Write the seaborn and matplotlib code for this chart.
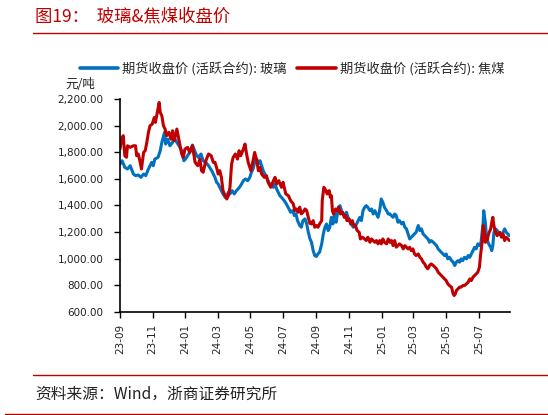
import numpy as np
import pandas as pd
import matplotlib
matplotlib.use("Agg")
import matplotlib.pyplot as plt
import matplotlib.dates as mdates
from matplotlib.ticker import FuncFormatter
from matplotlib.lines import Line2D
import seaborn as sns

# ---------------- data ----------------
start_date = "2023-09-01"

glass_days = [0, 4, 9, 14, 19, 25, 29, 34, 39, 44, 48, 53, 59, 62, 65, 71, 75, 78, 83, 85,
              89, 93, 98, 101, 106, 110, 115, 119, 122, 126, 130, 135, 138, 143, 146, 151,
              155, 160, 165, 171,
              177, 180, 183, 186, 189, 192, 196, 199, 202, 205, 209, 213, 217, 220, 225, 230,
              234, 238, 242, 245, 248, 251, 255, 258, 261, 264, 267, 270, 273, 276, 279, 282,
              286, 289, 292, 295, 298, 301, 306, 310, 315, 318, 322, 325, 328, 331, 335, 338,
              341, 345, 348, 351,
              354, 357, 360, 363, 366, 369, 372, 376, 379, 382, 385, 388, 391, 394, 397, 400,
              403, 407, 410, 413, 416, 419, 422, 425, 428, 431, 435, 438, 441, 444, 447, 450,
              453, 456, 459, 462, 466, 469, 472, 475, 478, 481, 484, 487, 490, 493, 497, 500,
              503, 506, 509, 512, 515, 518, 521, 525, 528,
              531, 534, 537, 540, 543, 546, 549, 552, 556, 559, 562, 565, 568, 571, 574, 577,
              580, 584, 587, 590, 593, 596, 599, 602, 605, 608, 611, 614, 618, 621, 624, 627,
              630, 633, 636, 639, 642, 646, 649, 652, 655, 658, 661, 664, 667, 670, 673, 677,
              678, 681, 683, 686, 689, 691, 693, 695, 697, 700, 703, 708, 711, 714, 717, 720,
              723, 726]
glass_values = [1712, 1737, 1687, 1675, 1700, 1637, 1625, 1630, 1612, 1637, 1625, 1675, 1725,
                1700, 1750, 1763, 1813, 1875, 1951, 1863, 1900, 1850, 1875, 1913, 1875, 1850,
                1813, 1737, 1750, 1775, 1800, 1855, 1825, 1775, 1763, 1788, 1737, 1725, 1700,
                1662,
                1612, 1575, 1562, 1537, 1512, 1487, 1462, 1474, 1499, 1487, 1512, 1487, 1512,
                1524, 1550, 1587, 1600, 1587, 1612, 1650, 1675, 1725, 1750, 1712, 1737, 1700,
                1662, 1637, 1612, 1587, 1562, 1550, 1537, 1562, 1524, 1499, 1474, 1462, 1437,
                1412, 1374, 1349, 1362, 1324, 1337, 1286, 1249, 1236, 1286, 1299, 1261, 1199,
                1150, 1123, 1061, 1023, 1016, 1036, 1048, 1111, 1186, 1236, 1261, 1211, 1236,
                1311, 1261, 1336, 1274, 1387, 1399, 1361, 1336, 1324, 1349, 1311, 1286, 1261,
                1236, 1249, 1261, 1286, 1311, 1286, 1361, 1386, 1399, 1386, 1361, 1374, 1336,
                1361, 1336, 1311, 1361, 1449, 1424, 1386, 1361, 1336, 1336, 1324, 1311, 1336,
                1324, 1274, 1286, 1261, 1274,
                1236, 1224, 1186, 1148, 1161, 1173, 1186, 1198, 1249, 1211, 1224, 1186, 1173,
                1161, 1148, 1123, 1136, 1123, 1111, 1098, 1073, 1060, 1048, 1035, 1023, 1035,
                998, 1010, 985, 973, 948, 973, 985, 973, 998, 985, 1010, 998, 1023, 1010, 1035,
                1060, 1085, 1073, 1111, 1098, 1123, 1273, 1361, 1273, 1173, 1123, 1098, 1085,
                1060, 1098, 1198, 1224, 1211, 1186, 1173, 1198, 1224, 1198, 1186, 1173]

coal_days = [0, 3, 6, 9, 12, 14, 19, 25, 29, 31, 34, 37, 40, 44, 47, 50, 53, 56, 60, 64, 66,
             70, 73, 75, 78, 81, 84, 87, 91, 95, 98, 101, 106, 109, 112, 115, 118, 121, 126,
             130, 135, 140, 145, 149, 152, 155, 160, 165, 170, 174,
             177, 180, 183, 186, 189, 192, 196, 199, 202, 205, 208, 211, 215, 219, 222, 225,
             230, 233, 236, 239, 244, 248, 251, 255, 258, 261, 264, 269, 273, 276, 281, 286,
             289, 292, 296, 301, 304, 309, 314, 318, 323, 326, 329, 332, 335, 338, 341, 345,
             348, 351,
             354, 357, 360, 363, 366, 369, 372, 376, 377, 380, 384, 386, 390, 392, 394, 396,
             398, 402, 405, 408, 411, 415, 418, 421, 423, 427, 430, 433, 436, 439, 442, 446,
             448, 452, 456, 459, 462, 466, 469, 472, 475, 478, 481, 484, 487, 490, 493, 497,
             500, 503, 506, 509, 512, 515, 518, 521, 525, 528,
             531, 534, 537, 540, 543, 546, 549, 552, 556, 559, 562, 565, 568, 571, 574, 577,
             580, 584, 587, 590, 593, 596, 599, 602, 605, 608, 611, 614, 618, 621, 623, 625,
             627, 630, 633, 636, 639, 642, 646, 649, 652, 655, 658, 661, 664, 667, 670, 672,
             675, 677, 678, 681, 685, 687, 691, 693, 695, 697, 700, 703, 708, 711, 714, 717,
             720, 723, 726]
coal_values = [1825, 1900, 1926, 1775, 1763, 1850, 1838, 1850, 1850, 1775, 1788, 1737, 1675,
               1800, 1813, 1875, 1951, 2001, 2013, 2063, 2026, 2114, 2176, 2101, 2076, 2001,
               1976, 1926, 1951, 1900, 1963, 1888, 1976, 1913, 1850, 1788, 1763, 1825, 1838,
               1800, 1850, 1725, 1700, 1750, 1662, 1650, 1737, 1788, 1775, 1725,
               1725, 1687, 1637, 1662, 1612, 1512, 1474, 1449, 1474, 1537, 1712, 1763, 1788,
               1750, 1813, 1775, 1825, 1863, 1788, 1725, 1662, 1737, 1800, 1737, 1662, 1687,
               1637, 1612, 1625, 1575, 1537, 1587, 1612, 1562, 1587, 1537, 1575, 1487, 1474,
               1437, 1412, 1362, 1374, 1349, 1387, 1337, 1349, 1374, 1362, 1311,
               1265, 1261, 1286, 1236, 1249, 1236, 1261, 1286, 1437, 1537, 1512, 1487, 1512,
               1462, 1474, 1361, 1336, 1374, 1361, 1386, 1336, 1349, 1311, 1324, 1286, 1299,
               1261, 1286, 1249, 1249, 1211, 1198, 1148, 1161, 1148, 1136, 1161, 1123, 1148,
               1136, 1123, 1136, 1111, 1136, 1111, 1148, 1123, 1111, 1148, 1123, 1136, 1098,
               1136, 1086, 1098, 1111, 1098, 1073,
               1098, 1085, 1073, 1085, 1060, 1073, 1035, 1023, 1035, 1010, 998, 973, 960, 935,
               923, 948, 960, 948, 935, 923, 898, 885, 872, 860, 847, 835, 810, 797, 785, 734,
               722, 734, 759, 772, 785, 785, 797, 797, 810, 822, 847, 835, 860, 872, 885, 898,
               935, 1023, 1123, 1248, 1236, 1123, 1148, 1186, 1224, 1273, 1311, 1248, 1198,
               1173, 1198, 1161, 1186, 1136, 1161, 1148, 1136]

series_names = ["期货收盘价 (活跃合约): 玻璃", "期货收盘价 (活跃合约): 焦煤"]
series_colors = ["#0070C0", "#C00000"]

title_text = "图19：  玻璃&焦煤收盘价"
unit_text = "元/吨"
source_text = "资料来源：Wind，浙商证券研究所"

# ---------------- build frame ----------------
t0 = pd.Timestamp(start_date)
glass_df = pd.DataFrame({"date": t0 + pd.to_timedelta(glass_days, unit="D"),
                         "value": glass_values, "series": series_names[0]})
coal_df = pd.DataFrame({"date": t0 + pd.to_timedelta(coal_days, unit="D"),
                        "value": coal_values, "series": series_names[1]})
df = pd.concat([glass_df, coal_df], ignore_index=True)

# ---------------- style ----------------
sns.set_style("ticks")
plt.rcParams["font.family"] = ["DejaVu Sans", "Noto Sans CJK SC"]
cjk = ["Noto Sans CJK SC", "DejaVu Sans"]

fig = plt.figure(figsize=(5.48, 4.15), dpi=100)
ax = fig.add_axes([120 / 548, 1 - 311.7 / 415, 390 / 548, 212.4 / 415])

sns.lineplot(data=df, x="date", y="value", hue="series", palette=series_colors,
             hue_order=series_names, linewidth=2.2, ax=ax, legend=False, estimator=None,
             sort=False)

ax.set_ylim(600, 2200)
ax.set_yticks(np.arange(600, 2201, 200))
ax.yaxis.set_major_formatter(FuncFormatter(lambda v, _: f"{v:,.2f}"))
ax.set_xlim(t0, t0 + pd.Timedelta(days=727))
ax.xaxis.set_major_locator(mdates.MonthLocator(bymonth=[1, 3, 5, 7, 9, 11]))
ax.xaxis.set_major_formatter(mdates.DateFormatter("%y-%m"))
ax.set_xlabel("")
ax.set_ylabel("")
for lab in ax.get_xticklabels():
    lab.set_rotation(90)
ax.tick_params(axis="both", labelsize=7.5, colors="black", length=4, width=1,
               direction="out", labelcolor="#222222")
ax.tick_params(axis="y", pad=8)
ax.tick_params(axis="x", pad=5)
for side in ["top", "right"]:
    ax.spines[side].set_visible(False)
for side in ["left", "bottom"]:
    ax.spines[side].set_color("black")
    ax.spines[side].set_linewidth(1.2)

# legend
handles = [Line2D([0], [0], color=c, lw=2.6) for c in series_colors]
fig.legend(handles, series_names, loc="center", bbox_to_anchor=(292 / 548, 1 - 69 / 415),
           ncol=2, frameon=False, prop={"family": cjk, "size": 9.5},
           handlelength=2.9, handletextpad=0.3, columnspacing=0.8)

fig.text(65 / 548, 1 - 84 / 415, unit_text, family=cjk, fontsize=9, va="center",
         ha="left", color="#222222")

# title, rules, source
fig.text(35 / 548, 1 - 16 / 415, title_text, family=cjk, fontsize=12.5, color="#C00000",
         va="center", ha="left")
rule_color = "#C00000"
fig.add_artist(Line2D([33 / 548, 1], [1 - 33 / 415] * 2, color=rule_color, lw=1.0))
fig.add_artist(Line2D([33 / 548, 1], [1 - 375 / 415] * 2, color=rule_color, lw=1.0))
fig.add_artist(Line2D([5 / 548, 1], [1 - 413.5 / 415] * 2, color=rule_color, lw=1.0))
fig.text(35 / 548, 1 - 394 / 415, source_text, family=cjk, fontsize=11.3, color="#222222",
         va="center", ha="left")

fig.savefig("out.png", dpi=100)
